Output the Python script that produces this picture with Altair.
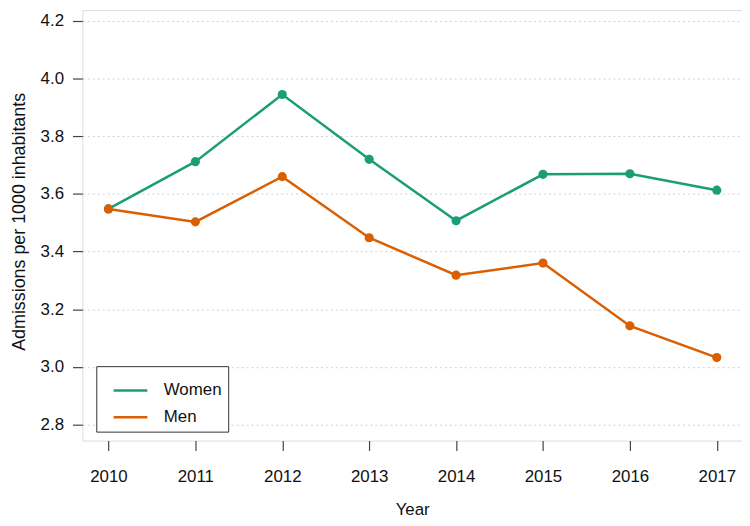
import altair as alt
import pandas as pd

years = [2010, 2011, 2012, 2013, 2014, 2015, 2016, 2017]
women = [3.548, 3.712, 3.945, 3.720, 3.507, 3.668, 3.670, 3.613]
men = [3.548, 3.503, 3.660, 3.448, 3.318, 3.360, 3.142, 3.032]
series = ["Women", "Men"]
colors = ["#1b9e77", "#d95f02"]
y_ticks = [2.8, 3.0, 3.2, 3.4, 3.6, 3.8, 4.0, 4.2]

rows = []
for name, vals in zip(series, [women, men]):
    for yr, v in zip(years, vals):
        rows.append({"Year": yr, "Value": v, "Sex": name})
df = pd.DataFrame(rows)

FONT = "Liberation Sans"

x = alt.X(
    "Year:Q",
    scale=alt.Scale(domain=[2009.70, 2017.29], nice=False, zero=False),
    axis=alt.Axis(
        values=years, format="d", title="Year", grid=False, domain=False,
        tickSize=10, tickColor="#444", tickWidth=1.2, labelPadding=18,
        labelFontSize=17, labelColor="#111", labelFont=FONT,
        titleFontSize=17, titleFont=FONT, titleFontWeight="normal", titleColor="#111",
        titleY=70, titleBaseline="middle",
    ),
)
y = alt.Y(
    "Value:Q",
    scale=alt.Scale(domain=[2.744, 4.238], nice=False, zero=False),
    axis=alt.Axis(
        values=y_ticks, format=".1f", title="Admissions per 1000 inhabitants",
        grid=True, gridColor="#cfcfcf", gridDash=[2, 3], gridWidth=1,
        domain=False, tickSize=10, tickColor="#444", tickWidth=1.2, labelPadding=9,
        labelFontSize=17, labelColor="#111", labelFont=FONT,
        titleFontSize=18, titleFont=FONT, titleFontWeight="normal", titleColor="#111",
        titleX=-63, titleY=213, titleAngle=-90, titleAlign="center", titleBaseline="middle",
    ),
)
color = alt.Color(
    "Sex:N",
    scale=alt.Scale(domain=series, range=colors),
    legend=alt.Legend(
        title=None, orient="none", legendX=14, legendY=359,
        symbolType="stroke", symbolSize=1156, symbolStrokeWidth=2.5, symbolOffset=10,
        labelFontSize=17, labelFont=FONT, labelColor="#111", labelOffset=15,
        strokeColor="#333", fillColor="white", padding=6, rowPadding=-10,
    ),
)

base = alt.Chart(df)
lines = base.mark_line(strokeWidth=2.5).encode(x=x, y=y, color=color)
points = base.mark_circle(size=85, opacity=1).encode(
    x=x, y=y, color=alt.Color("Sex:N", scale=alt.Scale(domain=series, range=colors), legend=None)
)

chart = (
    alt.layer(lines, points)
    .properties(
        width=665, height=434,
        autosize=alt.AutoSizeParams(type="none"),
        padding={"left": 75, "top": 0, "right": 0, "bottom": 80},
    )
    .configure_view(stroke="#444", strokeWidth=1.5)
    .configure(background="white")
)

chart.save("out.html", embed_options={"renderer": "svg", "actions": False})
